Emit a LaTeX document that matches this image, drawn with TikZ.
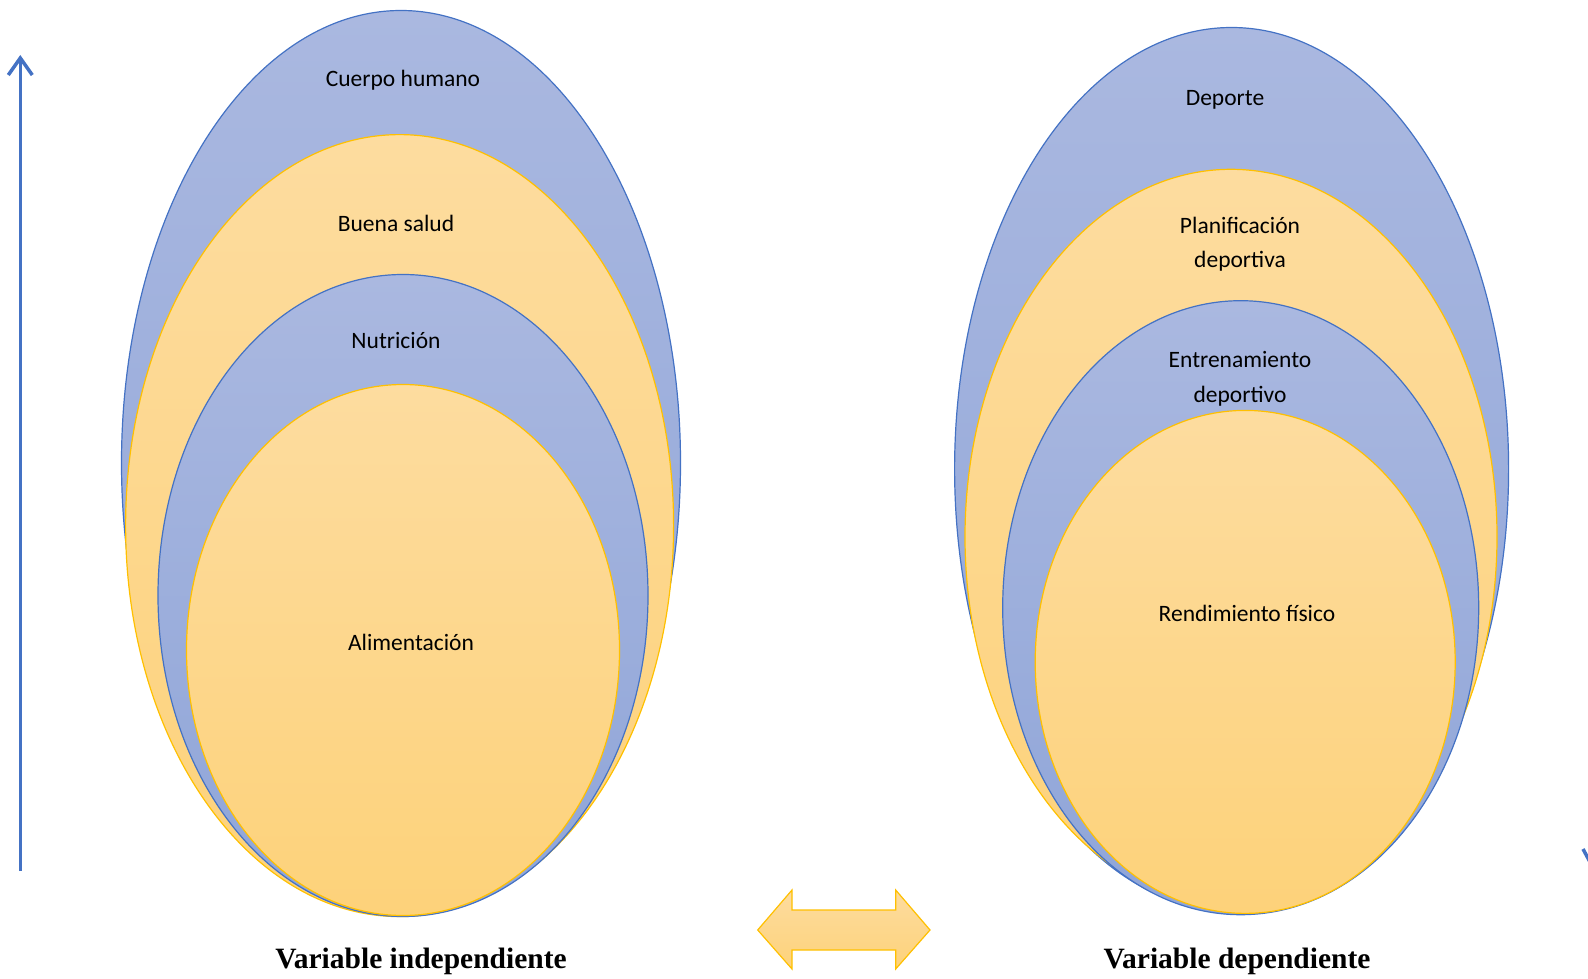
\documentclass[tikz,border=0pt]{standalone}
\usepackage{fontspec}
\setmainfont{Liberation Serif}
\newfontfamily\calib{Carlito}
\usetikzlibrary{shapes.geometric,arrows.meta}
\definecolor{bl}{HTML}{4472C4}
\definecolor{yl}{HTML}{FFC000}
\definecolor{bltop}{HTML}{AAB8E0}
\definecolor{blbot}{HTML}{8FA5D8}
\definecolor{yltop}{HTML}{FDDC9F}
\definecolor{ylbot}{HTML}{FDD27A}
\tikzset{
  bellip/.style={ellipse, inner sep=0pt, draw=bl, line width=1.2pt, top color=bltop, bottom color=blbot},
  yellip/.style={ellipse, inner sep=0pt, draw=yl, line width=1.2pt, top color=yltop, bottom color=ylbot},
  lbl/.style={font=\calib\fontsize{23.5}{34.5}\selectfont, align=center, text=black},
  vlbl/.style={font=\bfseries\fontsize{29.5}{32}\selectfont, text=black}
}
\begin{document}
\begin{tikzpicture}[x=1pt,y=-1pt]
\useasboundingbox (0,0) rectangle (1588,979);
% left stack
\node[bellip, minimum width=559pt, minimum height=905pt] (lo) at (401,463) {};
\node[yellip, minimum width=548pt, minimum height=782pt] (lb) at (399.6,525.6) {};
\node[bellip, minimum width=490pt, minimum height=642pt] (ln) at (403,595.5) {};
\node[yellip, minimum width=433pt, minimum height=531pt] (la) at (403,650) {};
% right stack
\node[bellip, minimum width=554pt, minimum height=883pt] (ro) at (1231.6,469) {};
\node[yellip, minimum width=532pt, minimum height=735pt] (rp) at (1231,536.8) {};
\node[bellip, minimum width=476pt, minimum height=614pt] (re) at (1240.7,607.7) {};
\node[yellip, minimum width=420pt, minimum height=503pt] (rr) at (1245.2,661.9) {};
% labels
\node[lbl] (t1) at (403,80) {Cuerpo humano};
\node[lbl] (t2) at (396,223) {Buena salud};
\node[lbl] (t3) at (396,341) {Nutrición};
\node[lbl] (t4) at (411,642) {Alimentación};
\node[lbl] (t5) at (1225,100) {Deporte};
\node[lbl] (t6) at (1240,244) {Planificación\\deportiva};
\node[lbl] (t7) at (1240,379) {Entrenamiento\\deportivo};
\node[lbl] (t8) at (1247,613) {Rendimiento físico};
\node[vlbl] (v1) at (421,961) {Variable independiente};
\node[vlbl] (v2) at (1237,961) {Variable dependiente};
% left vertical arrow
\coordinate (abot) at (20.3,871);
\coordinate (atop) at (20.3,55);
\draw[bl, line width=3.5pt, -{Straight Barb[length=17pt,width=24pt,line width=3.5pt]}] (abot) -- (atop);
% partial arrow at right edge
\coordinate (p1) at (1583,849);
\coordinate (p2) at (1590,862);
\draw[bl, line width=3.5pt] (p1) -- (p2);
% double arrow
\draw[yl, line width=1.2pt, top color=yltop, bottom color=ylbot]
  (757.7,930) -- (792,890) -- (792,910) -- (895.7,910) -- (895.7,890) -- (930,930)
  -- (895.7,969) -- (895.7,950) -- (792,950) -- (792,969) -- cycle;
\end{tikzpicture}
\end{document}
